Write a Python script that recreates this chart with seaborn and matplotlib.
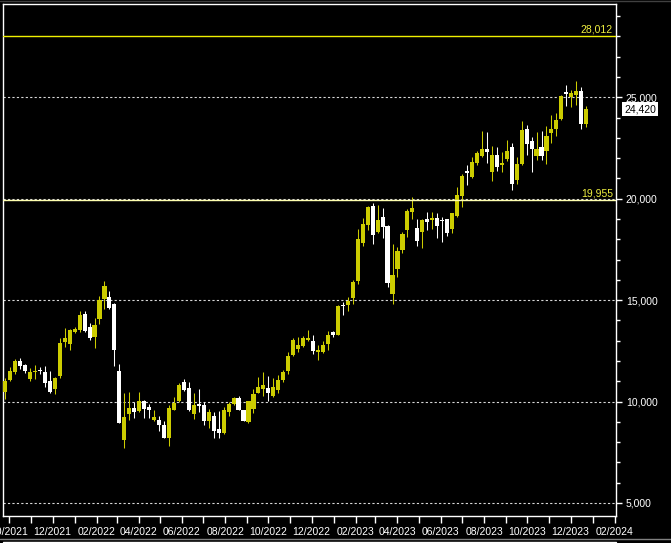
import pandas as pd
import numpy as np
import matplotlib
matplotlib.use('Agg')
import matplotlib.pyplot as plt
import matplotlib.dates as mdates
import matplotlib.ticker as mticker
import matplotlib.transforms as mtransforms
from matplotlib.lines import Line2D
import seaborn as sns

# Недельные свечи: открытие, максимум, минимум, закрытие
opens = [10470, 11060, 11470, 12000, 11800, 11130, 11440, 11570, 11460, 11010,
         10630, 11260, 12940, 12840, 13430, 13530, 14330, 13680, 13200, 14070,
         15060, 15160, 14810, 11510, 8100, 9390, 9680, 9540, 10030, 9730,
         9090, 9090, 8840, 8200, 9580, 10030, 10960, 10670, 9390, 9880,
         9830, 9040, 9290, 8650, 8450, 9490, 9880, 10180, 9580, 8990,
         9630, 10420, 10620, 10670, 10270, 10570, 11060, 11510, 12300, 12590,
         12740, 13040, 12990, 12440, 12440, 12840, 13430, 13280, 14760, 14760,
         15110, 15940, 17820, 18710, 19640, 18360, 19100, 18660, 15300, 16540,
         17470, 18460, 19350, 18560, 18360, 19000, 18950, 19050, 18950, 19000,
         18510, 19150, 20130, 21370, 21070, 21760, 22110, 22450, 21320, 22160,
         21660, 21960, 22550, 20920, 21710, 23440, 22850, 22110, 22550, 22350,
         23240, 23440, 23930, 25260, 25020, 25110, 25310, 23680]
highs = [11180, 11690, 12080, 12150, 11850, 11640, 11790, 11700, 11750, 11510,
         11210, 13120, 13630, 13560, 13680, 14470, 14470, 13870, 14120, 15200,
         15940, 15450, 14860, 11850, 10420, 10470, 9980, 10470, 10080, 9880,
         9580, 9290, 9040, 9830, 10230, 10920, 11110, 10960, 10420, 10620,
         9980, 9630, 9490, 9540, 9730, 9980, 10230, 10270, 9600, 10050,
         10620, 11210, 11460, 11260, 11160, 11310, 11560, 12440, 13130, 13180,
         13230, 13530, 13280, 12790, 12990, 13480, 13480, 14760, 14910, 15160,
         15990, 18510, 19050, 19620, 19790, 19690, 19540, 18680, 17770, 17620,
         18360, 19490, 20090, 19000, 19000, 19350, 19350, 19300, 19100, 19020,
         19320, 20580, 21220, 21660, 22060, 22350, 23340, 23290, 22600, 22550,
         22300, 22900, 22750, 22060, 23830, 23640, 23040, 23290, 23340, 23590,
         24130, 24230, 25110, 25610, 25360, 25800, 25510, 24570]
lows = [10140, 11010, 11340, 11620, 11420, 11030, 11130, 11340, 10730, 10410,
        10370, 11150, 12710, 12540, 13370, 13440, 13430, 13040, 12660, 13820,
        14560, 14560, 11750, 8940, 7710, 9090, 9190, 9490, 9190, 9190,
        9040, 8550, 8200, 7810, 9580, 9980, 10520, 9540, 9140, 9490,
        8840, 8700, 8200, 8200, 8400, 9290, 9830, 9560, 9020, 8940,
        9440, 10400, 10270, 10030, 10230, 10420, 10960, 11360, 12250, 12440,
        12690, 12990, 12350, 12050, 12390, 12540, 13180, 13260, 14270, 14470,
        14810, 15800, 17670, 18460, 17770, 18310, 18060, 15650, 14810, 16140,
        17320, 18110, 19000, 17670, 17570, 18460, 18510, 18060, 17870, 18160,
        18310, 19100, 19590, 20680, 21020, 21660, 22060, 21760, 20870, 21370,
        21320, 21860, 20430, 20730, 21660, 22160, 21320, 21910, 21910, 21710,
        22750, 23090, 23880, 24570, 24520, 24620, 23440, 23540]
closes = [11010, 11510, 12000, 11750, 11520, 11440, 11520, 11510, 10930, 10490,
          11150, 12890, 13130, 13530, 13580, 14270, 13480, 13120, 13780, 15010,
          15700, 14610, 12540, 8940, 9240, 9680, 9490, 10030, 9630, 9580,
          9240, 8840, 8200, 9680, 9930, 10820, 10570, 9580, 9830, 9780,
          9040, 9490, 8550, 8450, 9580, 9880, 10180, 9580, 9040, 10030,
          10370, 10720, 10820, 10420, 10720, 11060, 11460, 12250, 13040, 12790,
          13130, 13130, 12490, 12540, 12790, 13280, 13280, 14710, 14710, 14960,
          15890, 18010, 18750, 19590, 18210, 18950, 18610, 15850, 16240, 17420,
          18260, 19400, 19540, 17920, 18950, 18850, 19050, 18660, 18900, 18310,
          19300, 20180, 21120, 21270, 21810, 22250, 22450, 22300, 22160, 21560,
          21760, 22350, 20730, 21710, 23390, 22700, 22450, 22450, 22110, 23090,
          23440, 23880, 25060, 25160, 25210, 25310, 23680, 24420]

# Горизонтальные уровни и последняя цена
level_high = 28012
level_low = 19955
last_price = 24420

dates = pd.date_range('2021-09-25', periods=len(opens), freq='7D')
df = pd.DataFrame({'date': dates, 'open': opens, 'high': highs,
                   'low': lows, 'close': closes})
df['up'] = df['close'] >= df['open']
df['color'] = np.where(df['up'], '#cccc00', '#ffffff')
df['bottom'] = df[['open', 'close']].min(axis=1)
df['height'] = (df['close'] - df['open']).abs().clip(lower=50)

sns.set_style('dark', rc={'axes.facecolor': 'black', 'figure.facecolor': 'black',
                          'axes.edgecolor': 'white', 'text.color': 'white',
                          'xtick.color': 'white', 'ytick.color': 'white'})
plt.rcParams['font.family'] = ['Liberation Sans', 'DejaVu Sans']

fig = plt.figure(figsize=(6.71, 5.43), dpi=100)
ax = fig.add_axes([3 / 671, 1 - 516 / 543, 613 / 671, 512 / 543])
ax.set_facecolor('black')

# Сетка по ценам
for v in [5000, 10000, 15000, 20000, 25000]:
    ax.axhline(v, color='#d8d8d8', lw=0.8, ls=(0, (2, 2)), zorder=1)

# Свечи
ax.vlines(df['date'], df['low'], df['high'], colors=df['color'], lw=0.75, zorder=2)
ax.bar(df['date'], df['height'], bottom=df['bottom'], width=5.8,
       color=df['color'], linewidth=0, zorder=3)

# Уровни
ax.axhline(level_high, color='#f0f000', lw=1, zorder=4)
ax.axhline(level_low, color='#ffffb0', lw=1, zorder=4)
trans = mtransforms.blended_transform_factory(ax.transAxes, ax.transData)
ax.text(0.995, level_high + 60, f'{level_high:,}', transform=trans, ha='right',
        va='bottom', color='#f0f040', fontsize=7.5)
ax.text(0.995, level_low + 60, f'{level_low:,}', transform=trans, ha='right',
        va='bottom', color='#f0f040', fontsize=7.5)
ax.text(1 + 8 / 613, last_price, f'{last_price:,}', transform=trans, ha='left',
        va='center', color='black', fontsize=7.5, clip_on=False,
        bbox=dict(facecolor='white', edgecolor='none', pad=1.2))

ax.set_xlim(pd.Timestamp('2021-09-22'), pd.Timestamp('2024-02-03'))
ax.set_ylim(4358, 29600)

ax.yaxis.tick_right()
ax.yaxis.set_major_locator(mticker.MultipleLocator(5000))
ax.yaxis.set_minor_locator(mticker.MultipleLocator(1000))
ax.yaxis.set_major_formatter(mticker.FuncFormatter(lambda v, p: f'{v:,.0f}'))
ax.tick_params(axis='y', which='major', right=True, left=False, length=4,
               width=1, pad=3, labelsize=7.5, colors='white')
ax.tick_params(axis='y', which='minor', right=True, left=False, length=3,
               width=1, colors='white')

ax.xaxis.set_major_locator(mdates.MonthLocator())
ax.xaxis.set_major_formatter(mticker.FuncFormatter(
    lambda v, p: mdates.num2date(v).strftime('%m/%Y') if mdates.num2date(v).month % 2 == 0 else ''))
ax.tick_params(axis='x', which='major', bottom=True, length=5, width=1, pad=3,
               labelsize=7.5, colors='white')
ax.grid(False)

for s in ax.spines.values():
    s.set_color('white')
    s.set_linewidth(1)
    s.set_visible(True)

# Рамка следующей панели снизу
fig.add_artist(Line2D([0, 1], [1 - 538.5 / 543] * 2, color='#808080', lw=1))
fig.add_artist(Line2D([3 / 671, 616 / 671], [1 - 541.5 / 543] * 2, color='white', lw=1))
fig.add_artist(Line2D([0, 1], [1 - 0.5 / 543] * 2, color='#404040', lw=1))

fig.savefig('out.png', dpi=100, facecolor='black')
